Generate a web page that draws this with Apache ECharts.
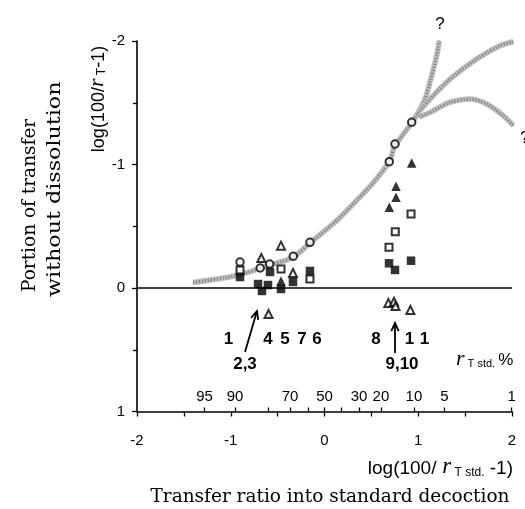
<!DOCTYPE html>
<html><head><meta charset="utf-8">
<script src="https://cdn.jsdelivr.net/npm/echarts@6/dist/echarts.min.js"></script>
<style>html,body{margin:0;padding:0;background:#fff}#c{width:525px;height:509px}</style>
</head><body><div id="c"></div>
<script>
// ---- data ----
const xTicks = [-2, -1, 0, 1, 2];
const yTicks = [-2, -1, 0, 1];
const rTickPercents = [95, 90, 80, 70, 60, 50, 40, 30, 20, 10, 5, 1];
const rLabelPercents = [95, 90, 70, 50, 30, 20, 10, 5, 1];

const curveMain = [[-1.403,-0.045],[-1.029,-0.087],[-0.816,-0.127],[-0.603,-0.181],[-0.336,-0.249],[-0.155,-0.364],[0.027,-0.478],[0.165,-0.571],[0.347,-0.713],[0.517,-0.850],[0.688,-1.020],[0.752,-1.150],[0.930,-1.336],[0.997,-1.417]];
const curveBranchA = [[0.997,-1.417],[1.072,-1.530],[1.125,-1.666],[1.197,-1.881],[1.225,-2.002]];
const curveBranchB = [[0.997,-1.417],[1.125,-1.530],[1.339,-1.692],[1.623,-1.854],[1.872,-1.962],[2.014,-1.994]];
const curveBranchC = [[1.010,-1.385],[1.120,-1.420],[1.232,-1.465],[1.339,-1.504],[1.552,-1.530],[1.730,-1.490],[1.907,-1.395],[2.014,-1.314]];

const openCircles = [[0.930,-1.342],[0.752,-1.166],[0.691,-1.023],[-0.155,-0.370],[-0.333,-0.257],[-0.585,-0.194],[-0.686,-0.162],[-0.901,-0.210]];
const filledTriangles = [[0.930,-1.012],[0.763,-0.823],[0.763,-0.734],[0.691,-0.653],[-0.464,-0.057]];
const openTriangles = [[-0.464,-0.343],[-0.674,-0.243],[-0.336,-0.121],[-0.597,0.211],[0.681,0.121],[0.741,0.111],[0.757,0.146],[0.916,0.178]];
const openSquares = [[0.923,-0.599],[0.755,-0.456],[0.688,-0.330],[-0.464,-0.154],[-0.901,-0.146],[-0.155,-0.073]];
const filledSquares = [[0.923,-0.221],[0.688,-0.200],[0.752,-0.146],[-0.901,-0.089],[-0.709,-0.032],[-0.603,-0.024],[-0.667,0.024],[-0.581,-0.130],[-0.464,0.008],[-0.336,-0.049],[-0.155,-0.138]];

// ---- chart ----
const SANS = '"Liberation Sans", Arial, sans-serif';
const SERIF = '"DejaVu Serif", serif';
const ITAL = '"Liberation Serif", serif';
const toX = r => Math.log10(100 / r - 1);
const curveSeries = (d) => [
  { type: 'line', data: d, showSymbol: false, symbol: 'none', clip: false, smooth: 0.3, z: 1, silent: true,
    lineStyle: { color: '#bdbdbd', width: 5.5 } },
  { type: 'line', data: d, showSymbol: false, symbol: 'none', clip: false, smooth: 0.3, z: 1, silent: true,
    lineStyle: { color: '#7a7a7a', width: 3, type: [1, 2] } }
];
const open = { color: '#fff', borderColor: '#000', borderWidth: 2 };
const filled = { color: '#000' };

const chart = echarts.init(document.getElementById('c'), null, { renderer: 'canvas' });

function arrow(x1, y1, x2, y2) {
  const dx = x2 - x1, dy = y2 - y1, L = Math.hypot(dx, dy), ux = dx / L, uy = dy / L;
  const h = 9, a = 0.42;
  const p1 = [x2 - h * (ux * Math.cos(a) - uy * Math.sin(a)), y2 - h * (uy * Math.cos(a) + ux * Math.sin(a))];
  const p2 = [x2 - h * (ux * Math.cos(a) + uy * Math.sin(a)), y2 - h * (uy * Math.cos(a) - ux * Math.sin(a))];
  return [
    { type: 'line', shape: { x1, y1, x2, y2 }, style: { stroke: '#000', lineWidth: 1.8 } },
    { type: 'polyline', shape: { points: [p1, [x2, y2], p2] }, style: { stroke: '#000', lineWidth: 1.8, fill: null } }
  ];
}
function txt(x, y, text, font, opt, extra) {
  return Object.assign({ type: 'text', x, y, style: Object.assign({ text, font, fill: '#000', align: 'center', verticalAlign: 'middle' }, opt || {}) }, extra || {});
}
const bold = 'bold 17px ' + SANS;
const nameRich = {
  a: { fontFamily: SANS, fontSize: 19, verticalAlign: 'bottom' },
  r: { fontFamily: ITAL, fontStyle: 'italic', fontSize: 23, verticalAlign: 'bottom' },
  s: { fontFamily: SANS, fontSize: 12, verticalAlign: 'bottom' }
};
const yNameRich = {
  a: { fontFamily: SANS, fontSize: 18, verticalAlign: 'bottom' },
  r: { fontFamily: ITAL, fontStyle: 'italic', fontSize: 22, verticalAlign: 'bottom' },
  s: { fontFamily: SANS, fontSize: 12, verticalAlign: 'bottom' }
};

chart.setOption({
  animation: false,
  backgroundColor: '#fff',
  grid: { left: 137, right: 13, top: 41, bottom: 97.5, outerBoundsMode: 'none' },
  xAxis: [{
    type: 'value', min: -2, max: 2, interval: 1, position: 'bottom',
    axisLine: { show: true, onZero: false, lineStyle: { color: '#000', width: 1.6 } },
    axisTick: { show: true, length: 5, lineStyle: { color: '#000', width: 1.3 } },
    minorTick: { show: true, splitNumber: 2, length: 5, lineStyle: { color: '#000', width: 1.3 } },
    axisLabel: { color: '#000', fontSize: 15, fontFamily: SANS, margin: 22, customValues: xTicks },
    splitLine: { show: false }
  }, {
    type: 'value', min: -2, max: 2, position: 'bottom',
    axisLine: { show: false, onZero: false },
    axisTick: { show: true, inside: true, length: 4, customValues: rTickPercents.map(toX), lineStyle: { color: '#000', width: 1.3 } },
    axisLabel: { show: true, inside: true, margin: 7, customValues: rLabelPercents.map(toX), color: '#000', fontSize: 15, fontFamily: SANS,
      formatter: v => String(Math.round(100 / (Math.pow(10, v) + 1))) },
    splitLine: { show: false }
  }],
  yAxis: {
    type: 'value', min: -2, max: 1, interval: 1, inverse: true,
    axisLine: { show: true, onZero: false, lineStyle: { color: '#000', width: 1.6 } },
    axisTick: { show: true, length: 5, lineStyle: { color: '#000', width: 1.3 } },
    minorTick: { show: true, splitNumber: 2, length: 4, lineStyle: { color: '#000', width: 1.3 } },
    axisLabel: { color: '#000', fontSize: 15, fontFamily: SANS, margin: 12, customValues: yTicks },
    splitLine: { show: false }
  },
  series: [].concat(
    curveSeries(curveMain), curveSeries(curveBranchA), curveSeries(curveBranchB), curveSeries(curveBranchC),
    [
      { type: 'scatter', data: filledSquares, symbol: 'rect', symbolSize: 8.5, itemStyle: filled, z: 3,
        markLine: { silent: true, symbol: 'none', label: { show: false }, lineStyle: { color: '#000', width: 1.6, type: 'solid' }, data: [{ yAxis: 0 }] } },
      { type: 'scatter', data: filledTriangles, symbol: 'triangle', symbolSize: 9.5, itemStyle: filled, z: 3 },
      { type: 'scatter', data: openSquares, symbol: 'rect', symbolSize: 7, itemStyle: open, z: 4 },
      { type: 'scatter', data: openTriangles, symbol: 'triangle', symbolSize: 8, itemStyle: open, z: 4 },
      { type: 'scatter', data: openCircles, symbol: 'circle', symbolSize: 7.5, itemStyle: open, z: 5 }
    ]
  ),
  graphic: [].concat(
    arrow(245, 352, 257, 311),
    arrow(395, 353, 395, 323),
    [
      txt(228.5, 339, '1', bold), txt(268, 339, '4', bold), txt(285, 339, '5', bold), txt(302, 339, '7', bold), txt(317, 339, '6', bold),
      txt(376, 339, '8', bold), txt(409.5, 339, '1', bold), txt(424.5, 339, '1', bold),
      txt(245, 364, '2,3', bold), txt(402, 364, '9,10', bold),
      txt(440, 24, '?', '17px ' + SANS),
      txt(520, 138, '?', '17px ' + SANS, { align: 'left' }),
      { type: 'text', x: 456, y: 359, style: { text: '{r|r}{s| T std. }{p|%}', align: 'left', verticalAlign: 'middle', fill: '#000',
        rich: { r: { fontFamily: ITAL, fontStyle: 'italic', fontSize: 22, verticalAlign: 'bottom' }, s: { fontFamily: SANS, fontSize: 11, verticalAlign: 'bottom', padding: [0, 0, 1, 0] }, p: { fontFamily: SANS, fontSize: 17, verticalAlign: 'bottom', padding: [0, 0, 1, 0] } } } },
      { type: 'text', x: 513, y: 467, style: { text: '{a|log(100/}{r| r}{s| T std.}{a| -1)}', align: 'right', verticalAlign: 'middle', fill: '#000', rich: nameRich } },
      { type: 'text', x: 97, y: 99, rotation: Math.PI / 2, style: { text: '{a|log(100/}{r|r}{s| T}{a|-1)}', align: 'center', verticalAlign: 'middle', fill: '#000', rich: yNameRich } },
      txt(330, 497, 'Transfer ratio into standard decoction', '18.5px ' + SERIF),
      txt(30, 292, 'Portion of transfer', '18.5px ' + SERIF, { align: 'left' }, { rotation: Math.PI / 2 }),
      txt(55, 297, 'without dissolution', '18.5px ' + SERIF, { align: 'left' }, { rotation: Math.PI / 2, scaleX: 1.2 })
    ]
  )
});
</script></body></html>
